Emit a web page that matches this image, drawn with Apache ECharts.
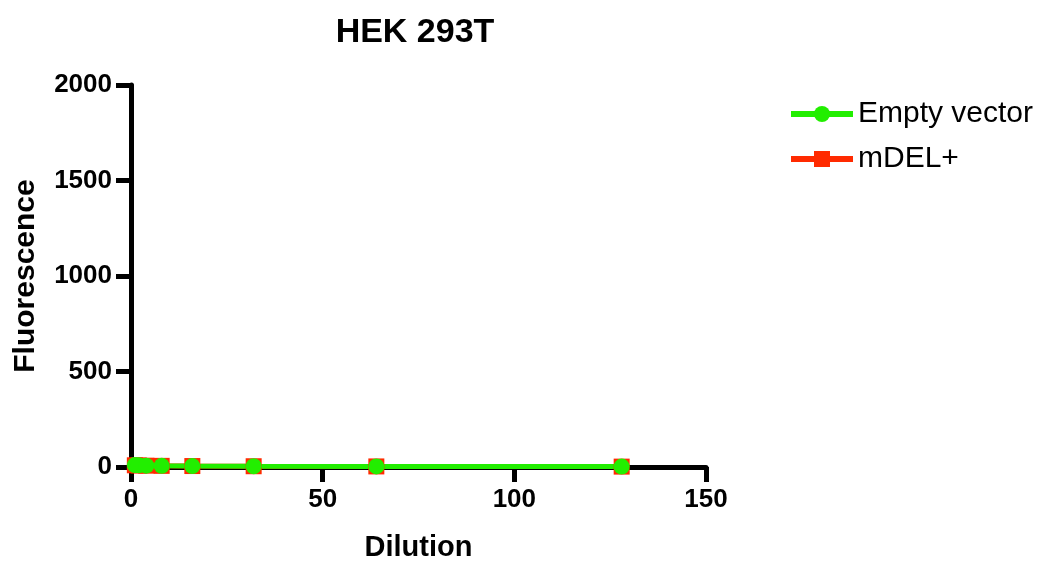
<!DOCTYPE html>
<html><head><meta charset="utf-8">
<script src="https://cdn.jsdelivr.net/npm/echarts@6/dist/echarts.min.js"></script>
<style>html,body{margin:0;padding:0;background:#fff}#c{width:1041px;height:561px}</style>
</head><body><div id="c"></div>
<script>
const dilutions = [1, 2, 4, 8, 16, 32, 64, 128];
const emptyVector = [10, 9, 7, 6, 5, 4, 3, 2];
const mDEL = [9, 8, 7, 6, 5, 4, 3, 2];
const seriesNames = ['Empty vector', 'mDEL+'];
const FONT = '"Liberation Sans", Arial, sans-serif';

const chart = echarts.init(document.getElementById('c'));
chart.setOption({
  animation: false,
  backgroundColor: '#fff',
  title: {text: 'HEK 293T', left: 410, top: 11, textAlign: 'center',
    textStyle: {fontFamily: FONT, fontWeight: 'bold', fontSize: 34, color: '#000'}},
  grid: {left: 131, right: 335, top: 85, bottom: 94, outerBoundsMode: 'none', containLabel: false},
  legend: {
    orient: 'vertical', left: 783, top: 94, itemGap: 15, itemWidth: 62, itemHeight: 20,
    lineStyle: {width: 6},
    textStyle: {fontFamily: FONT, fontSize: 30, color: '#000', padding: [0,0,0,0]},
    data: [seriesNames[0], seriesNames[1]]
  },
  xAxis: {
    type: 'value', min: 0, max: 150, interval: 50,
    name: 'Dilution', nameLocation: 'middle', nameGap: 66,
    nameTextStyle: {fontFamily: FONT, fontWeight: 'bold', fontSize: 29, color: '#000'},
    axisLine: {lineStyle: {color: '#000', width: 5}},
    axisTick: {length: 15, lineStyle: {color: '#000', width: 5}},
    axisLabel: {fontFamily: FONT, fontWeight: 'bold', fontSize: 26, color: '#000', margin: 20},
    splitLine: {show: false}
  },
  yAxis: {
    type: 'value', min: 0, max: 2000, interval: 500,
    name: 'Fluorescence', nameLocation: 'middle', nameGap: 90, nameRotate: 90,
    nameTextStyle: {fontFamily: FONT, fontWeight: 'bold', fontSize: 30, color: '#000'},
    axisLine: {show: true, lineStyle: {color: '#000', width: 5}},
    axisTick: {show: true, length: 15, lineStyle: {color: '#000', width: 5}},
    axisLabel: {fontFamily: FONT, fontWeight: 'bold', fontSize: 26, color: '#000', margin: 19,
      formatter: v => String(v)},
    splitLine: {show: false}
  },
  series: [
    {name: seriesNames[1], type: 'line', symbol: 'rect', symbolSize: 16,
     itemStyle: {color: '#ff2a00'}, lineStyle: {color: '#ff2a00', width: 5},
     data: dilutions.map((d, i) => [d, mDEL[i]])},
    {name: seriesNames[0], type: 'line', symbol: 'circle', symbolSize: 16,
     itemStyle: {color: '#22ee00'}, lineStyle: {color: '#22ee00', width: 5},
     data: dilutions.map((d, i) => [d, emptyVector[i]])}
  ]
});
</script></body></html>
